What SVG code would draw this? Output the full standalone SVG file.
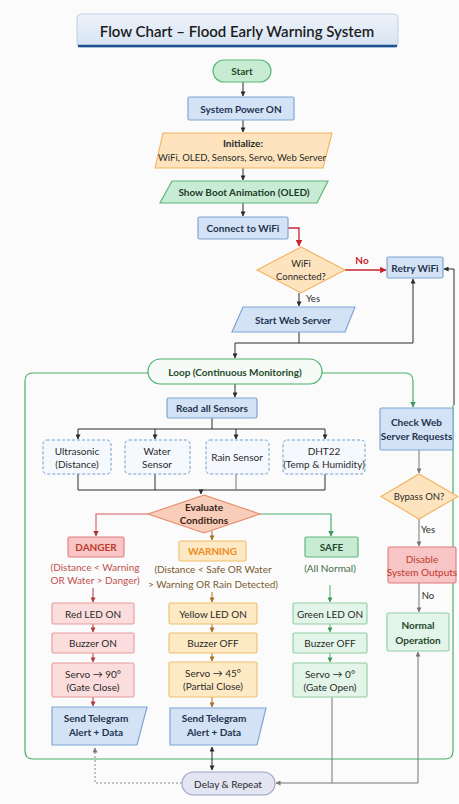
<svg xmlns="http://www.w3.org/2000/svg" width="459" height="804" viewBox="0 0 459 804">
<defs>
<style>
text{font-family:Lato,"Liberation Sans",sans-serif;text-anchor:middle;dominant-baseline:central}
.b{font-size:10px;font-weight:700;fill:#1f3350}
.r{font-size:10px;font-weight:400;fill:#2a2a2a}
.blue{fill:#d3e3f5;stroke:#7ea6d6;stroke-width:1.2}
.grn{fill:#c8ecd3;stroke:#5fb77b;stroke-width:1.2}
.lgrn{fill:#e3f5e8;stroke:#91cda2;stroke-width:1.1}
.org{fill:#fde4be;stroke:#f1b25c;stroke-width:1.1}
.yel{fill:#fde9c4;stroke:#efbf6c;stroke-width:1.1}
.red{fill:#f7c5c5;stroke:#e07b7b;stroke-width:1.1}
.pink{fill:#fbdddd;stroke:#e79b9b;stroke-width:1.1}
.sen{fill:#f5f9fd;stroke:#6d9fd0;stroke-width:1;stroke-dasharray:3 2}
.k{fill:none;stroke:#2b2b2b;stroke-width:1}
.g{fill:none;stroke:#777;stroke-width:1}
.gl{fill:none;stroke:#4caf6c;stroke-width:1.2}
.rl{fill:none;stroke:#c8232c;stroke-width:1.3}
.dr{fill:none;stroke:#b33a3a;stroke-width:1}
.ol{fill:none;stroke:#a8701f;stroke-width:1}
</style>
<linearGradient id="tg" x1="0" y1="0" x2="0" y2="1"><stop offset="0" stop-color="#eef3fa"/><stop offset="1" stop-color="#d6e3f3"/></linearGradient>
<marker id="ak" viewBox="0 0 6 6" refX="5.5" refY="3" markerWidth="5" markerHeight="5" orient="auto"><path d="M0,0 L6,3 L0,6 z" fill="#2b2b2b"/></marker>
<marker id="aks" viewBox="0 0 6 6" refX="0.5" refY="3" markerWidth="5" markerHeight="5" orient="auto"><path d="M6,0 L0,3 L6,6 z" fill="#2b2b2b"/></marker>
<marker id="ag" viewBox="0 0 6 6" refX="5.5" refY="3" markerWidth="5" markerHeight="5" orient="auto"><path d="M0,0 L6,3 L0,6 z" fill="#777"/></marker>
<marker id="agl" viewBox="0 0 6 6" refX="5.5" refY="3" markerWidth="5" markerHeight="5" orient="auto"><path d="M0,0 L6,3 L0,6 z" fill="#3a9a5a"/></marker>
<marker id="ar" viewBox="0 0 6 6" refX="5.5" refY="3" markerWidth="5" markerHeight="5" orient="auto"><path d="M0,0 L6,3 L0,6 z" fill="#c8232c"/></marker>
<marker id="adr" viewBox="0 0 6 6" refX="5.5" refY="3" markerWidth="5" markerHeight="5" orient="auto"><path d="M0,0 L6,3 L0,6 z" fill="#b33a3a"/></marker>
<marker id="ao" viewBox="0 0 6 6" refX="5.5" refY="3" markerWidth="5" markerHeight="5" orient="auto"><path d="M0,0 L6,3 L0,6 z" fill="#a8701f"/></marker>
</defs>
<rect width="459" height="804" fill="#fbfbfb"/>

<g id="title">
<rect x="77" y="14" width="321" height="33" rx="4" fill="url(#tg)" stroke="#bfd0e5"/>
<line x1="78" y1="46" x2="397" y2="46" stroke="#1d4f91" stroke-width="2.5"/>
<text x="237" y="31" style="font-size:15px;font-weight:600;fill:#1c1c1c">Flow Chart – Flood Early Warning System</text>
</g>

<g id="connectors">
<path class="k" d="M243,82 V96" marker-end="url(#ak)"/>
<path class="k" d="M243,120 V132" marker-end="url(#ak)"/>
<path class="k" d="M243,168 V180" marker-end="url(#ak)"/>
<path class="k" d="M243,203 V216" marker-end="url(#ak)"/>
<path class="rl" d="M288,228 H299 V246" marker-end="url(#ar)"/>
<path class="rl" d="M345,270 H386" marker-end="url(#ar)"/>
<path class="k" d="M299,293 V306" marker-end="url(#ak)"/>
<path class="k" d="M299,332 V343"/>
<path class="k" d="M235,343 H413"/>
<path class="k" d="M413,343 V279" marker-end="url(#ak)"/>
<path class="k" d="M235,343 V358" marker-end="url(#ak)"/>
<path class="k" d="M454,405 V269 H444" marker-end="url(#ak)"/>
<path class="gl" d="M148,373 H33 Q25,373 25,381 V751 Q25,759 33,759 H445 Q453,759 453,751 V405"/>
<path class="gl" d="M322,373 H405 Q413,373 413,381 V407" marker-end="url(#agl)"/>
<path class="k" d="M235,384 V397" marker-end="url(#ak)"/>
<path class="k" d="M212,418 V429"/>
<path class="k" d="M78,429 H325"/>
<path class="k" d="M78,429 V439" marker-end="url(#ak)"/>
<path class="k" d="M155,429 V439" marker-end="url(#ak)"/>
<path class="k" d="M236,429 V439" marker-end="url(#ak)"/>
<path class="k" d="M325,429 V439" marker-end="url(#ak)"/>
<path class="k" d="M78,474 V490 H325 V474 M155,474 V490"/>
<path class="g" d="M236,474 V490"/>
<path class="k" d="M201,490 V494" marker-end="url(#ak)"/>
<path fill="none" stroke="#d65a5a" stroke-width="1.1" d="M149,514 H96 V536" marker-end="url(#adr)"/>
<path class="gl" d="M259,514 H331 V536" marker-end="url(#agl)"/>
<path class="ol" d="M212,531 V540" marker-end="url(#ao)"/>
<path class="dr" d="M93,588 V602" marker-end="url(#adr)"/>
<path class="dr" d="M93,624 V632" marker-end="url(#adr)"/>
<path class="dr" d="M93,653 V662" marker-end="url(#adr)"/>
<path class="dr" d="M93,697 V706" marker-end="url(#adr)"/>
<path class="ol" d="M212,592 V602" marker-end="url(#ao)"/>
<path class="ol" d="M212,624 V632" marker-end="url(#ao)"/>
<path class="ol" d="M212,653 V661" marker-end="url(#ao)"/>
<path class="ol" d="M212,697 V707" marker-end="url(#ao)"/>
<path class="gl" style="stroke-width:1" d="M330,585 V602" marker-end="url(#agl)"/>
<path class="gl" style="stroke-width:1" d="M330,624 V632" marker-end="url(#agl)"/>
<path class="gl" style="stroke-width:1" d="M330,653 V662" marker-end="url(#agl)"/>
<path class="g" d="M332,697 V783"/>
<path class="g" d="M418,783 H276" marker-end="url(#ag)"/>
<path class="g" d="M418,783 V652" marker-end="url(#ag)"/>
<path class="k" d="M212,747 V770" marker-start="url(#aks)" marker-end="url(#ak)"/>
<path fill="none" stroke="#8a8a8a" stroke-width="1" stroke-dasharray="2 2" d="M182,783 H95 V748" marker-end="url(#ag)"/>
<path class="g" d="M419,450 V473" marker-end="url(#ag)"/>
<path class="g" d="M419,519 V546" marker-end="url(#ag)"/>
<path class="g" d="M419,583 V612" marker-end="url(#ag)"/>
</g>

<g id="start"><rect x="213" y="60" width="58" height="22" rx="11" class="grn"/><text x="242" y="71" class="b" style="fill:#1f4a2c">Start</text></g>
<g id="power"><rect x="188" y="97" width="106" height="23" rx="1.5" class="blue"/><text x="241" y="108.5" class="b">System Power ON</text></g>
<g id="init"><polygon points="163,133 332,133 323,168 155,168" class="org"/><text x="243" y="143" class="b" style="fill:#2a2a2a">Initialize:</text><text x="242" y="157" class="r" style="font-size:9.5px">WiFi, OLED, Sensors, Servo, Web Server</text></g>
<g id="boot"><polygon points="172,181 328,181 317,203 160,203" class="grn"/><text x="244" y="192" class="b" style="fill:#1f3a2a">Show Boot Animation (OLED)</text></g>
<g id="connect"><rect x="198" y="217" width="90" height="22" rx="1.5" class="blue"/><text x="243" y="228" class="b">Connect to WiFi</text></g>
<g id="wifiq"><polygon points="301,247 345,270 301,293 257,270" class="org"/><text x="301" y="263" class="r" style="font-size:9.5px">WiFi</text><text x="301" y="276" class="r" style="font-size:9.5px">Connected?</text></g>
<g id="nolbl"><text x="362" y="260" class="b" style="fill:#c8232c">No</text></g>
<g id="yeslbl"><text x="313" y="298" class="r" style="font-size:9.5px">Yes</text></g>
<g id="retry"><rect x="387" y="257" width="56" height="21" rx="1.5" class="blue"/><text x="415" y="267.5" class="b">Retry WiFi</text></g>
<g id="webserver"><polygon points="243,307 355,307 345,332 232,332" class="blue"/><text x="293" y="319.5" class="b">Start Web Server</text></g>
<g id="loop"><rect x="148" y="359" width="174" height="25" rx="12.5" fill="#f6fbf7" stroke="#4caf6c" stroke-width="1.2"/><text x="235" y="371.5" class="b" style="fill:#1f4a2c">Loop (Continuous Monitoring)</text></g>
<g id="read"><rect x="167" y="398" width="90" height="20" rx="1.5" class="blue"/><text x="212" y="408" class="b">Read all Sensors</text></g>
<g id="ultra"><rect x="43" y="440" width="68" height="34" rx="4" class="sen"/><text x="77" y="451" class="r">Ultrasonic</text><text x="77" y="464" class="r">(Distance)</text></g>
<g id="water"><rect x="125" y="440" width="65" height="34" rx="4" class="sen"/><text x="157" y="451" class="r">Water</text><text x="157" y="464" class="r">Sensor</text></g>
<g id="rain"><rect x="206" y="440" width="63" height="34" rx="4" class="sen"/><text x="237" y="457" class="r">Rain Sensor</text></g>
<g id="dht"><rect x="283" y="440" width="82" height="34" rx="4" class="sen"/><text x="324" y="451" class="r">DHT22</text><text x="324" y="464" class="r">(Temp &amp; Humidity)</text></g>
<g id="evaluate"><polygon points="204,495 260,514 204,533 148,514" fill="#f8cdb9" stroke="#e68a6b" stroke-width="1.1"/><text x="204" y="507" class="b" style="fill:#3a2418">Evaluate</text><text x="204" y="520" class="b" style="fill:#3a2418">Conditions</text></g>

<g id="danger"><rect x="68" y="537" width="56" height="20" rx="1.5" class="red"/><text x="96" y="547" class="b" style="fill:#c0392b">DANGER</text><text x="95" y="567" class="r" style="fill:#c0504d">(Distance &lt; Warning</text><text x="95" y="580" class="r" style="fill:#c0504d">OR Water &gt; Danger)</text></g>
<g id="warning"><rect x="179" y="541" width="67" height="20" rx="1.5" class="yel"/><text x="212.5" y="551" class="b" style="fill:#ee8a1c">WARNING</text><text x="213" y="569" class="r" style="fill:#7a5a30">(Distance &lt; Safe OR Water</text><text x="213" y="584" class="r" style="fill:#7a5a30">&gt; Warning OR Rain Detected)</text></g>
<g id="safe"><rect x="305" y="537" width="53" height="20" rx="1.5" class="grn"/><text x="331.5" y="547" class="b" style="fill:#1f4a2c">SAFE</text><text x="330" y="568" class="r" style="fill:#3f6b4c">(All Normal)</text></g>

<g id="redled"><rect x="52" y="603" width="82" height="21" rx="1.5" class="pink"/><text x="93" y="613.5" class="r">Red LED ON</text></g>
<g id="buzzon"><rect x="52" y="633" width="82" height="20" rx="1.5" class="pink"/><text x="93" y="643" class="r">Buzzer ON</text></g>
<g id="servo90"><rect x="52" y="663" width="82" height="34" rx="1.5" class="pink"/><text x="93" y="674" class="r">Servo → 90°</text><text x="93" y="687" class="r">(Gate Close)</text></g>
<g id="tele1"><polygon points="52,707 147,707 137,745 52,745" class="blue"/><text x="96" y="718" class="b">Send Telegram</text><text x="96" y="732" class="b">Alert + Data</text></g>

<g id="yelled"><rect x="169" y="603" width="88" height="21" rx="1.5" class="yel"/><text x="213" y="613.5" class="r">Yellow LED ON</text></g>
<g id="buzzoff1"><rect x="169" y="633" width="88" height="20" rx="1.5" class="yel"/><text x="213" y="643" class="r">Buzzer OFF</text></g>
<g id="servo45"><rect x="169" y="662" width="88" height="35" rx="1.5" class="yel"/><text x="213" y="673" class="r">Servo → 45°</text><text x="213" y="686" class="r">(Partial Close)</text></g>
<g id="tele2"><polygon points="170,708 266,708 257,745 170,745" class="blue"/><text x="214" y="718" class="b">Send Telegram</text><text x="214" y="732" class="b">Alert + Data</text></g>

<g id="grnled"><rect x="293" y="603" width="74" height="21" rx="1.5" class="lgrn"/><text x="330" y="613.5" class="r">Green LED ON</text></g>
<g id="buzzoff2"><rect x="293" y="633" width="74" height="20" rx="1.5" class="lgrn"/><text x="330" y="643" class="r">Buzzer OFF</text></g>
<g id="servo0"><rect x="293" y="663" width="74" height="34" rx="1.5" class="lgrn"/><text x="330" y="674" class="r">Servo → 0°</text><text x="330" y="687" class="r">(Gate Open)</text></g>

<g id="delay"><rect x="182" y="772" width="93" height="23" rx="11.5" fill="#e3e5f2" stroke="#9ba2c2" stroke-width="1.1"/><text x="228" y="783.5" class="r">Delay &amp; Repeat</text></g>

<g id="checkweb"><rect x="380" y="408" width="73" height="42" rx="1.5" class="blue"/><text x="416.5" y="422" class="b">Check Web</text><text x="416.5" y="436" class="b">Server Requests</text></g>
<g id="bypass"><polygon points="419,474 458,496.5 419,519 381,496.5" class="org"/><text x="419" y="496.5" class="r" style="font-size:9.5px">Bypass ON?</text></g>
<g id="yes2"><text x="428" y="529" class="r" style="font-size:9.5px">Yes</text></g>
<g id="disable"><rect x="388" y="547" width="68" height="36" rx="1.5" class="red"/><text x="422" y="559" class="r" style="fill:#c0392b">Disable</text><text x="422" y="572" class="r" style="fill:#c0392b">System Outputs</text></g>
<g id="no2"><text x="428" y="595" class="r" style="font-size:9.5px">No</text></g>
<g id="normal"><rect x="387" y="613" width="62" height="38" rx="1.5" class="lgrn"/><text x="418" y="625" class="b" style="fill:#1f4a2c">Normal</text><text x="418" y="640" class="b" style="fill:#1f4a2c">Operation</text></g>
</svg>
